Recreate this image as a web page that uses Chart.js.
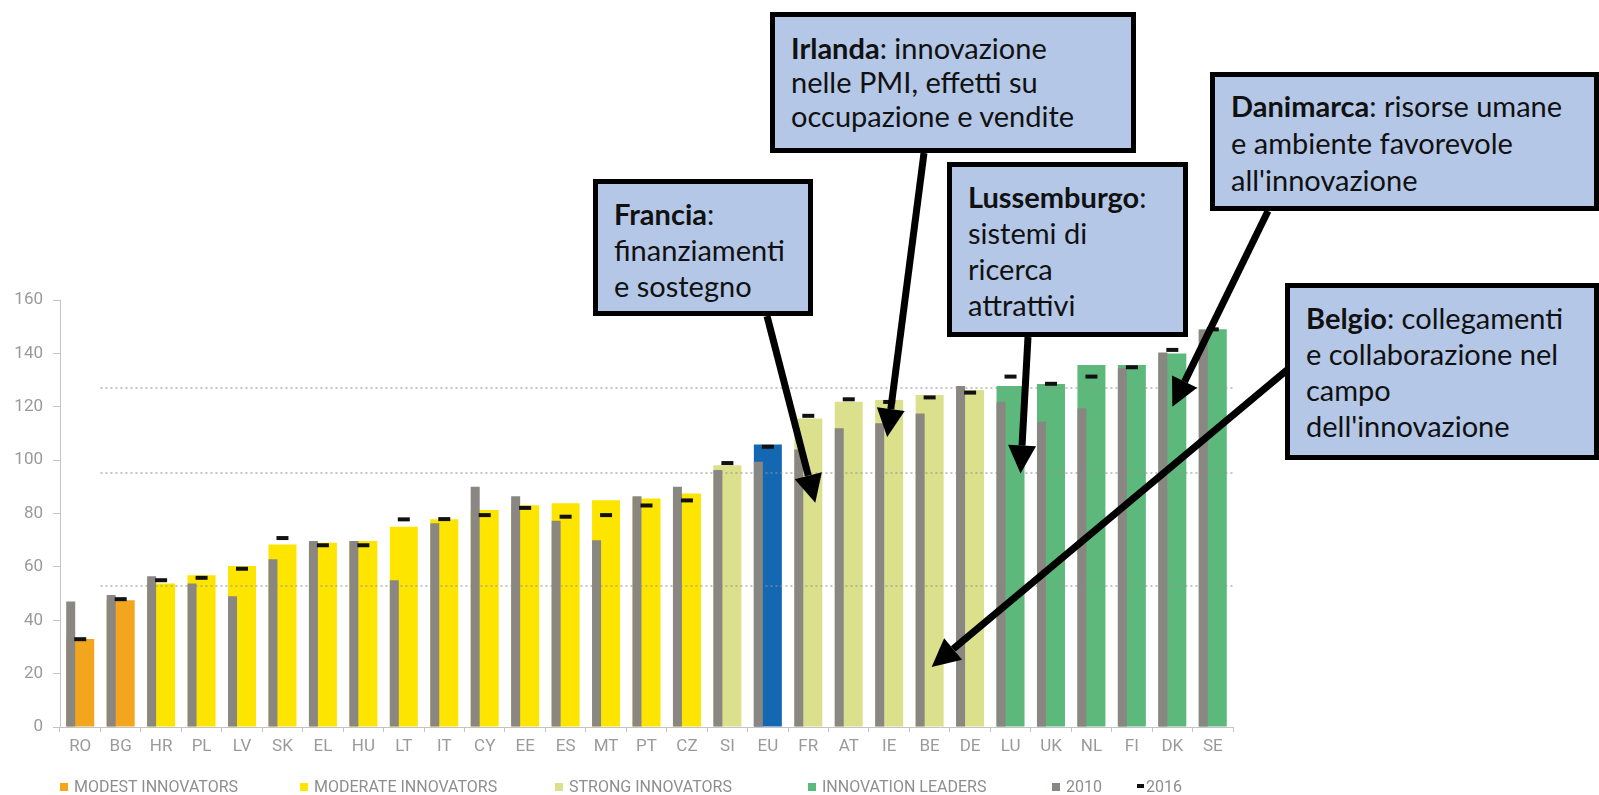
<!DOCTYPE html>
<html>
<head>
<meta charset="utf-8">
<title>Innovation performance</title>
<script src="https://cdn.jsdelivr.net/npm/chart.js@4.4.1/dist/chart.umd.min.js"></script>
<style>
  body { margin: 0; background: #fff; width: 1599px; height: 795px; overflow: hidden; position: relative; }
  #chart { position: absolute; left: 0; top: 0; }
  .box {
    position: absolute; box-sizing: border-box; border: 5px solid #000; background: #b4c7e7;
    font-family: Lato, "Open Sans", sans-serif; font-size: 29px; line-height: 36px; color: #111;
    padding: 12px 6px 0 16px; white-space: nowrap;
  }
  .box b { font-weight: 700; }
  .leg { position: absolute; top: 777px; font-family: Roboto, sans-serif; font-size: 16px; color: #8e8e8e; line-height: 20px; white-space: nowrap; }
  .leg i { display: inline-block; width: 8px; height: 8px; margin-right: 6px; vertical-align: 1px; }
  .leg i.dash { width: 7px; height: 4px; background: #111; vertical-align: 4px; margin-right: 2px; }
</style>
</head>
<body>
<canvas id="chart" width="1599" height="795"></canvas>

<div class="box" style="left:593px;top:179px;width:220px;height:137px"><b>Francia</b>:<br>finanziamenti<br>e sostegno</div>
<div class="box" style="left:770px;top:12px;width:366px;height:141px;line-height:34px;padding-top:14px"><b>Irlanda</b>: innovazione<br>nelle PMI, effetti su<br>occupazione e vendite</div>
<div class="box" style="left:947px;top:162px;width:241px;height:175px"><b>Lussemburgo</b>:<br>sistemi di<br>ricerca<br>attrattivi</div>
<div class="box" style="left:1210px;top:72px;width:389px;height:139px;line-height:37px;padding-top:10px"><b>Danimarca</b>: risorse umane<br>e ambiente favorevole<br>all'innovazione</div>
<div class="box" style="left:1285px;top:283px;width:314px;height:177px"><b>Belgio</b>: collegamenti<br>e collaborazione nel<br>campo<br>dell'innovazione</div>

<div id="legend"></div>

<script>
// countries, sorted by current score
const countries = ['RO','BG','HR','PL','LV','SK','EL','HU','LT','IT','CY','EE','ES','MT','PT','CZ','SI','EU','FR','AT','IE','BE','DE','LU','UK','NL','FI','DK','SE'];
const groups = ['modest','modest',
  'moderate','moderate','moderate','moderate','moderate','moderate','moderate','moderate','moderate','moderate','moderate','moderate','moderate','moderate',
  'strong','eu','strong','strong','strong','strong','strong',
  'leaders','leaders','leaders','leaders','leaders','leaders'];

// current performance (coloured bars)
const scoreNow = [33, 47.5, 53.8, 56.9, 60.3, 68.4, 69, 69.7, 75, 77.8, 81.3, 83.1, 83.8, 85, 85.6, 87.5, 98.1, 105.9, 115.6, 121.9, 122.5, 124.4, 126.3, 127.8, 128.5, 135.6, 135.6, 140, 149];
// 2010 (grey bars)
const score2010 = [47, 49.5, 56.5, 53.8, 49, 62.9, 69.7, 69.7, 55, 76.3, 90, 86.5, 77.3, 70, 86.5, 90, 96.3, 99.4, 104, 111.9, 113.8, 117.5, 127.8, 121.9, 114.4, 119.4, 134.4, 140.3, 148.8];
// 2016 (black markers)
const score2016 = [32.9, 47.9, 55, 55.9, 59.3, 70.8, 68.1, 68.1, 77.8, 77.9, 79.4, 82.1, 78.8, 79.4, 83, 84.9, 98.9, 105, 116.6, 122.8, 121.8, 123.5, 125.3, 131.3, 128.6, 131.3, 134.8, 141.3, 149];

const thresholds = [127, 95, 53];
const yTicks = [0, 160, 20]; // min, max, step

const groupColors = {
  modest: '#f2a51d',
  moderate: '#fde500',
  strong: '#dbe08d',
  leaders: '#5cb97b',
  eu: '#1468b2'
};
const grey = '#8a8782';

const legendItems = [
  { text: 'MODEST INNOVATORS', color: groupColors.modest, x: 60 },
  { text: 'MODERATE INNOVATORS', color: groupColors.moderate, x: 300 },
  { text: 'STRONG INNOVATORS', color: groupColors.strong, x: 555 },
  { text: 'INNOVATION LEADERS', color: groupColors.leaders, x: 808 },
  { text: '2010', color: grey, x: 1052 },
  { text: '2016', dash: true, x: 1137 }
];

// callout arrows: start on the box edge, tip on a bar
const callouts = [
  { from: [767, 316], cat: 'FR', val: 84, dx: 7 },
  { from: [924, 153], cat: 'IE', val: 108.7, dx: -2 },
  { from: [1028, 337], cat: 'LU', val: 95, dx: 10 },
  { from: [1268, 211], cat: 'DK', val: 120, dx: 0 },
  { from: [1287, 370], cat: 'BE', val: 22.5, dx: 2 }
];

const legendEl = document.getElementById('legend');
legendItems.forEach(it => {
  const d = document.createElement('div');
  d.className = 'leg';
  d.style.left = it.x + 'px';
  d.innerHTML = it.dash ? '<i class="dash"></i>' + it.text
    : '<i style="background:' + it.color + '"></i>' + it.text;
  legendEl.appendChild(d);
});

const thresholdLines = {
  id: 'thresholdLines',
  afterDatasetDraw(chart, args) {
    if (args.index !== 2) return;
    const { ctx, chartArea, scales: { x, y } } = chart;
    const x0 = (x.getPixelForValue(0) + x.getPixelForValue(1)) / 2;
    ctx.save();
    ctx.strokeStyle = 'rgba(150,150,150,0.55)';
    ctx.lineWidth = 2;
    ctx.setLineDash([2, 3]);
    thresholds.forEach(v => {
      const py = Math.round(y.getPixelForValue(v));
      ctx.beginPath();
      ctx.moveTo(x0, py);
      ctx.lineTo(chartArea.right, py);
      ctx.stroke();
    });
    ctx.restore();
  }
};

function drawArrow(ctx, x0, y0, x1, y1) {
  const a = Math.atan2(y1 - y0, x1 - x0);
  const head = 28, hw = 14;
  const bx = x1 - head * Math.cos(a), by = y1 - head * Math.sin(a);
  ctx.beginPath();
  ctx.moveTo(x0, y0);
  ctx.lineTo(bx, by);
  ctx.stroke();
  ctx.beginPath();
  ctx.moveTo(x1, y1);
  ctx.lineTo(bx + hw * Math.sin(a), by - hw * Math.cos(a));
  ctx.lineTo(bx - hw * Math.sin(a), by + hw * Math.cos(a));
  ctx.closePath();
  ctx.fill();
}

const arrows = {
  id: 'arrows',
  afterDraw(chart) {
    const { ctx, scales: { x, y } } = chart;
    ctx.save();
    ctx.strokeStyle = '#000';
    ctx.fillStyle = '#000';
    ctx.lineWidth = 7;
    callouts.forEach(c => {
      const tx = x.getPixelForValue(countries.indexOf(c.cat)) + c.dx;
      const ty = y.getPixelForValue(c.val);
      drawArrow(ctx, c.from[0], c.from[1], tx, ty);
    });
    ctx.restore();
  }
};

const tickFont = { family: 'Roboto', size: 17 };

const config = {
  data: {
    labels: countries,
    datasets: [
      {
        type: 'line', label: '2016', data: score2016, order: 0,
        showLine: false, pointStyle: 'line', pointRadius: 6, pointBorderWidth: 4,
        pointBorderColor: '#111', borderColor: '#111'
      },
      {
        type: 'bar', label: '2010', data: score2010, order: 1,
        backgroundColor: grey, grouped: true, categoryPercentage: 0.94, barPercentage: 0.474
      },
      {
        type: 'bar', label: 'now', data: scoreNow, order: 2,
        backgroundColor: groups.map(g => groupColors[g]), grouped: false,
        categoryPercentage: 1, barPercentage: 0.692
      },
      {
        // empty slot so the grey bars sit on the left side of each category
        type: 'bar', label: '', data: countries.map(() => null), order: 3,
        grouped: true, categoryPercentage: 0.94
      }
    ]
  },
  options: {
    responsive: false,
    animation: false,
    layout: { padding: { left: 0, right: 366, top: 300, bottom: 28 } },
    plugins: { legend: { display: false }, tooltip: { enabled: false } },
    scales: {
      x: {
        offset: true,
        grid: { offset: true, drawOnChartArea: false, tickLength: 5, color: '#c4c4c4' },
        border: { color: '#c4c4c4' },
        ticks: { color: '#9a9a9a', font: tickFont, padding: 5, maxRotation: 0, autoSkip: false },
        afterFit: s => { s.height = 40; }
      },
      y: {
        min: yTicks[0], max: yTicks[1],
        grid: { drawOnChartArea: false, tickLength: 7, color: '#c4c4c4' },
        border: { color: '#c4c4c4' },
        ticks: { stepSize: yTicks[2], color: '#9a9a9a', font: tickFont, padding: 10 },
        afterFit: s => { s.width = 60; }
      }
    }
  },
  plugins: [thresholdLines, arrows]
};

new Chart(document.getElementById('chart').getContext('2d'), config);
</script>
</body>
</html>
